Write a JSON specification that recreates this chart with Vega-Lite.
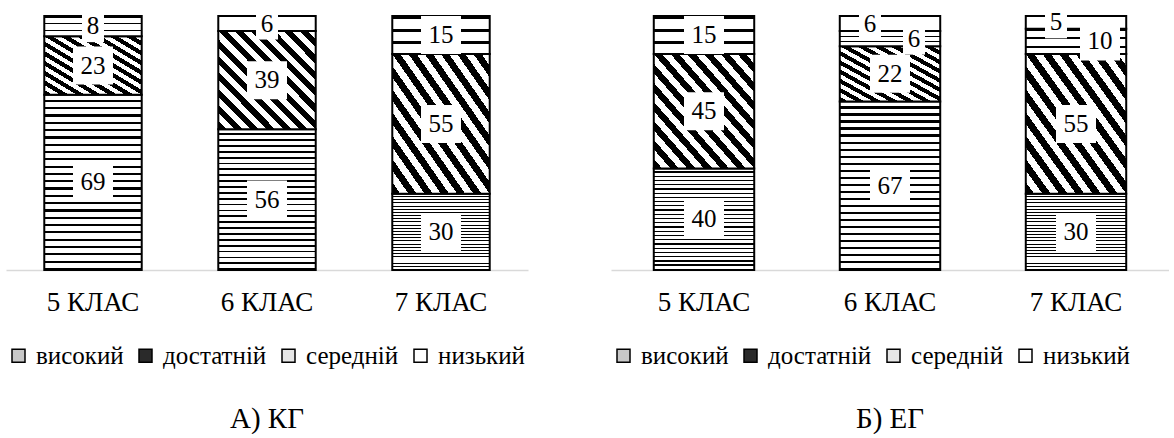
{
  "$schema": "https://vega.github.io/schema/vega-lite/v6.json",
  "background": "white",
  "padding": {"left": 6, "top": 6, "right": 0, "bottom": 0},
  "spacing": 83,
  "config": {
    "font": "Times New Roman, Liberation Serif, serif",
    "view": {"stroke": null},
    "axisX": {"title": null, "labelAngle": 0, "ticks": false, "domainColor": "#d9d9d9", "domainWidth": 1.5, "labelFont": "Times New Roman, Liberation Serif, serif", "labelFontSize": 27, "labelPadding": 19, "labelColor": "black", "grid": false},
    "legend": {"orient": "bottom", "direction": "horizontal", "symbolType": "square", "symbolSize": 169, "symbolStrokeColor": "black", "symbolStrokeWidth": 1.5, "symbolOpacity": 1, "labelFont": "Times New Roman, Liberation Serif, serif", "labelFontSize": 25, "labelColor": "black", "title": null, "columnPadding": 9, "labelOffset": 5, "offset": 28},
    "title": {"orient": "bottom", "fontSize": 29, "font": "Times New Roman, Liberation Serif, serif", "fontWeight": "normal", "color": "black", "offset": 36}
  },
  "datasets": {
    "rows": [
      {"group": "КГ", "klas": "5 КЛАС", "level": "високий", "value": 69},
      {"group": "КГ", "klas": "5 КЛАС", "level": "достатній", "value": 23},
      {"group": "КГ", "klas": "5 КЛАС", "level": "середній", "value": 8},
      {"group": "КГ", "klas": "6 КЛАС", "level": "високий", "value": 56},
      {"group": "КГ", "klas": "6 КЛАС", "level": "достатній", "value": 39},
      {"group": "КГ", "klas": "6 КЛАС", "level": "низький", "value": 6},
      {"group": "КГ", "klas": "7 КЛАС", "level": "високий", "value": 30},
      {"group": "КГ", "klas": "7 КЛАС", "level": "достатній", "value": 55},
      {"group": "КГ", "klas": "7 КЛАС", "level": "середній", "value": 15},
      {"group": "ЕГ", "klas": "5 КЛАС", "level": "високий", "value": 40},
      {"group": "ЕГ", "klas": "5 КЛАС", "level": "достатній", "value": 45},
      {"group": "ЕГ", "klas": "5 КЛАС", "level": "середній", "value": 15},
      {"group": "ЕГ", "klas": "6 КЛАС", "level": "високий", "value": 67},
      {"group": "ЕГ", "klas": "6 КЛАС", "level": "достатній", "value": 22},
      {"group": "ЕГ", "klas": "6 КЛАС", "level": "середній", "value": 6},
      {"group": "ЕГ", "klas": "6 КЛАС", "level": "низький", "value": 6},
      {"group": "ЕГ", "klas": "7 КЛАС", "level": "високий", "value": 30},
      {"group": "ЕГ", "klas": "7 КЛАС", "level": "достатній", "value": 55},
      {"group": "ЕГ", "klas": "7 КЛАС", "level": "середній", "value": 10},
      {"group": "ЕГ", "klas": "7 КЛАС", "level": "низький", "value": 5}
    ],
    "levels": [
      {"level": "високий", "rank": 1},
      {"level": "достатній", "rank": 2},
      {"level": "середній", "rank": 3},
      {"level": "низький", "rank": 4}
    ]
  },
  "resolve": {"scale": {"fill": "independent"}, "legend": {"fill": "independent"}},
  "hconcat": [
    {
      "width": 522,
      "height": 254,
      "title": {"text": "А) КГ"},
      "data": {"name": "rows"},
      "transform": [
        {"filter": "datum.group === 'КГ'"},
        {"lookup": "level", "from": {"data": {"name": "levels"}, "key": "level", "fields": ["rank"]}}
      ],
      "encoding": {
        "x": {"field": "klas", "type": "nominal", "scale": {"paddingInner": 0.44, "paddingOuter": 0.22}},
        "order": {"field": "rank", "type": "quantitative", "sort": "ascending"}
      },
      "layer": [
        {
          "mark": {"type": "bar", "stroke": "black", "strokeWidth": 2, "opacity": 1},
          "encoding": {
            "y": {"field": "value", "type": "quantitative", "stack": "normalize", "axis": null},
            "fill": {
              "condition": [
                {"test": "datum.level === 'високий'", "value": {"gradient": "linear", "x1": 0, "y1": 0, "x2": 0, "y2": 1, "stops": [
                  {"offset": 0, "color": "#fff"}, {"offset": 0.0292, "color": "#fff"}, {"offset": 0.0292, "color": "#000"}, {"offset": 0.0417, "color": "#000"},
                  {"offset": 0.0417, "color": "#fff"}, {"offset": 0.0708, "color": "#fff"}, {"offset": 0.0708, "color": "#000"}, {"offset": 0.0833, "color": "#000"},
                  {"offset": 0.0833, "color": "#fff"}, {"offset": 0.1125, "color": "#fff"}, {"offset": 0.1125, "color": "#000"}, {"offset": 0.125, "color": "#000"},
                  {"offset": 0.125, "color": "#fff"}, {"offset": 0.1542, "color": "#fff"}, {"offset": 0.1542, "color": "#000"}, {"offset": 0.1667, "color": "#000"},
                  {"offset": 0.1667, "color": "#fff"}, {"offset": 0.1958, "color": "#fff"}, {"offset": 0.1958, "color": "#000"}, {"offset": 0.2083, "color": "#000"},
                  {"offset": 0.2083, "color": "#fff"}, {"offset": 0.2375, "color": "#fff"}, {"offset": 0.2375, "color": "#000"}, {"offset": 0.25, "color": "#000"},
                  {"offset": 0.25, "color": "#fff"}, {"offset": 0.2792, "color": "#fff"}, {"offset": 0.2792, "color": "#000"}, {"offset": 0.2917, "color": "#000"},
                  {"offset": 0.2917, "color": "#fff"}, {"offset": 0.3208, "color": "#fff"}, {"offset": 0.3208, "color": "#000"}, {"offset": 0.3333, "color": "#000"},
                  {"offset": 0.3333, "color": "#fff"}, {"offset": 0.3625, "color": "#fff"}, {"offset": 0.3625, "color": "#000"}, {"offset": 0.375, "color": "#000"},
                  {"offset": 0.375, "color": "#fff"}, {"offset": 0.4042, "color": "#fff"}, {"offset": 0.4042, "color": "#000"}, {"offset": 0.4167, "color": "#000"},
                  {"offset": 0.4167, "color": "#fff"}, {"offset": 0.4458, "color": "#fff"}, {"offset": 0.4458, "color": "#000"}, {"offset": 0.4583, "color": "#000"},
                  {"offset": 0.4583, "color": "#fff"}, {"offset": 0.4875, "color": "#fff"}, {"offset": 0.4875, "color": "#000"}, {"offset": 0.5, "color": "#000"},
                  {"offset": 0.5, "color": "#fff"}, {"offset": 0.5292, "color": "#fff"}, {"offset": 0.5292, "color": "#000"}, {"offset": 0.5417, "color": "#000"},
                  {"offset": 0.5417, "color": "#fff"}, {"offset": 0.5708, "color": "#fff"}, {"offset": 0.5708, "color": "#000"}, {"offset": 0.5833, "color": "#000"},
                  {"offset": 0.5833, "color": "#fff"}, {"offset": 0.6125, "color": "#fff"}, {"offset": 0.6125, "color": "#000"}, {"offset": 0.625, "color": "#000"},
                  {"offset": 0.625, "color": "#fff"}, {"offset": 0.6542, "color": "#fff"}, {"offset": 0.6542, "color": "#000"}, {"offset": 0.6667, "color": "#000"},
                  {"offset": 0.6667, "color": "#fff"}, {"offset": 0.6958, "color": "#fff"}, {"offset": 0.6958, "color": "#000"}, {"offset": 0.7083, "color": "#000"},
                  {"offset": 0.7083, "color": "#fff"}, {"offset": 0.7375, "color": "#fff"}, {"offset": 0.7375, "color": "#000"}, {"offset": 0.75, "color": "#000"},
                  {"offset": 0.75, "color": "#fff"}, {"offset": 0.7792, "color": "#fff"}, {"offset": 0.7792, "color": "#000"}, {"offset": 0.7917, "color": "#000"},
                  {"offset": 0.7917, "color": "#fff"}, {"offset": 0.8208, "color": "#fff"}, {"offset": 0.8208, "color": "#000"}, {"offset": 0.8333, "color": "#000"},
                  {"offset": 0.8333, "color": "#fff"}, {"offset": 0.8625, "color": "#fff"}, {"offset": 0.8625, "color": "#000"}, {"offset": 0.875, "color": "#000"},
                  {"offset": 0.875, "color": "#fff"}, {"offset": 0.9042, "color": "#fff"}, {"offset": 0.9042, "color": "#000"}, {"offset": 0.9167, "color": "#000"},
                  {"offset": 0.9167, "color": "#fff"}, {"offset": 0.9458, "color": "#fff"}, {"offset": 0.9458, "color": "#000"}, {"offset": 0.9583, "color": "#000"},
                  {"offset": 0.9583, "color": "#fff"}, {"offset": 0.9875, "color": "#fff"}, {"offset": 0.9875, "color": "#000"}, {"offset": 1, "color": "#000"}
                ]}},
                {"test": "datum.level === 'достатній'", "value": {"gradient": "linear", "x1": 0, "y1": 1, "x2": 1, "y2": 0, "stops": [
                  {"offset": 0, "color": "#000"}, {"offset": 0.0417, "color": "#000"}, {"offset": 0.0417, "color": "#fff"}, {"offset": 0.0833, "color": "#fff"},
                  {"offset": 0.0833, "color": "#000"}, {"offset": 0.125, "color": "#000"}, {"offset": 0.125, "color": "#fff"}, {"offset": 0.1667, "color": "#fff"},
                  {"offset": 0.1667, "color": "#000"}, {"offset": 0.2083, "color": "#000"}, {"offset": 0.2083, "color": "#fff"}, {"offset": 0.25, "color": "#fff"},
                  {"offset": 0.25, "color": "#000"}, {"offset": 0.2917, "color": "#000"}, {"offset": 0.2917, "color": "#fff"}, {"offset": 0.3333, "color": "#fff"},
                  {"offset": 0.3333, "color": "#000"}, {"offset": 0.375, "color": "#000"}, {"offset": 0.375, "color": "#fff"}, {"offset": 0.4167, "color": "#fff"},
                  {"offset": 0.4167, "color": "#000"}, {"offset": 0.4583, "color": "#000"}, {"offset": 0.4583, "color": "#fff"}, {"offset": 0.5, "color": "#fff"},
                  {"offset": 0.5, "color": "#000"}, {"offset": 0.5417, "color": "#000"}, {"offset": 0.5417, "color": "#fff"}, {"offset": 0.5833, "color": "#fff"},
                  {"offset": 0.5833, "color": "#000"}, {"offset": 0.625, "color": "#000"}, {"offset": 0.625, "color": "#fff"}, {"offset": 0.6667, "color": "#fff"},
                  {"offset": 0.6667, "color": "#000"}, {"offset": 0.7083, "color": "#000"}, {"offset": 0.7083, "color": "#fff"}, {"offset": 0.75, "color": "#fff"},
                  {"offset": 0.75, "color": "#000"}, {"offset": 0.7917, "color": "#000"}, {"offset": 0.7917, "color": "#fff"}, {"offset": 0.8333, "color": "#fff"},
                  {"offset": 0.8333, "color": "#000"}, {"offset": 0.875, "color": "#000"}, {"offset": 0.875, "color": "#fff"}, {"offset": 0.9167, "color": "#fff"},
                  {"offset": 0.9167, "color": "#000"}, {"offset": 0.9583, "color": "#000"}, {"offset": 0.9583, "color": "#fff"}, {"offset": 1, "color": "#fff"}
                ]}},
                {"test": "datum.level === 'середній'", "value": {"gradient": "linear", "x1": 0, "y1": 0, "x2": 0, "y2": 1, "stops": [
                  {"offset": 0, "color": "#000"}, {"offset": 0.08, "color": "#000"}, {"offset": 0.08, "color": "#fff"}, {"offset": 0.333, "color": "#fff"},
                  {"offset": 0.333, "color": "#000"}, {"offset": 0.413, "color": "#000"}, {"offset": 0.413, "color": "#fff"}, {"offset": 0.667, "color": "#fff"},
                  {"offset": 0.667, "color": "#000"}, {"offset": 0.747, "color": "#000"}, {"offset": 0.747, "color": "#fff"}, {"offset": 1, "color": "#fff"}
                ]}},
                {"test": "datum.level === 'низький'", "value": "#ffffff"}
              ],
              "field": "level", "type": "nominal",
              "scale": {"domain": ["високий", "достатній", "середній", "низький"], "range": ["#c8c8c8", "#2a2a2a", "#e6e6e6", "#ffffff"]}
            }
          }
        },
        {
          "mark": {"type": "point", "filled": true, "fill": "white", "strokeWidth": 0, "opacity": 1, "size": 1600,
            "shape": {"expr": "datum.value >= 10 ? 'M-1,-0.95H1V0.95H-1Z' : 'M-0.55,-0.8H0.55V0.8H-0.55Z'"}},
          "encoding": {
            "y": {"field": "value", "type": "quantitative", "stack": "normalize", "bandPosition": 0.5},
            "detail": {"field": "level", "type": "nominal"}
          }
        },
        {
          "mark": {"type": "text", "fontSize": 25, "font": "Times New Roman, Liberation Serif, serif", "color": "black", "baseline": "middle"},
          "encoding": {
            "y": {"field": "value", "type": "quantitative", "stack": "normalize", "bandPosition": 0.5},
            "text": {"field": "value", "type": "quantitative"},
            "detail": {"field": "level", "type": "nominal"}
          }
        }
      ]
    },
    {
      "width": 558,
      "height": 254,
      "title": {"text": "Б) ЕГ"},
      "data": {"name": "rows"},
      "transform": [
        {"filter": "datum.group === 'ЕГ'"},
        {"lookup": "level", "from": {"data": {"name": "levels"}, "key": "level", "fields": ["rank"]}}
      ],
      "encoding": {
        "x": {"field": "klas", "type": "nominal", "scale": {"paddingInner": 0.46, "paddingOuter": 0.23}},
        "order": {"field": "rank", "type": "quantitative", "sort": "ascending"}
      },
      "layer": [
        {
          "mark": {"type": "bar", "stroke": "black", "strokeWidth": 2, "opacity": 1},
          "encoding": {
            "y": {"field": "value", "type": "quantitative", "stack": "normalize", "axis": null},
            "fill": {
              "condition": [
                {"test": "datum.level === 'високий'", "value": {"gradient": "linear", "x1": 0, "y1": 0, "x2": 0, "y2": 1, "stops": [
                  {"offset": 0, "color": "#fff"}, {"offset": 0.0292, "color": "#fff"}, {"offset": 0.0292, "color": "#000"}, {"offset": 0.0417, "color": "#000"},
                  {"offset": 0.0417, "color": "#fff"}, {"offset": 0.0708, "color": "#fff"}, {"offset": 0.0708, "color": "#000"}, {"offset": 0.0833, "color": "#000"},
                  {"offset": 0.0833, "color": "#fff"}, {"offset": 0.1125, "color": "#fff"}, {"offset": 0.1125, "color": "#000"}, {"offset": 0.125, "color": "#000"},
                  {"offset": 0.125, "color": "#fff"}, {"offset": 0.1542, "color": "#fff"}, {"offset": 0.1542, "color": "#000"}, {"offset": 0.1667, "color": "#000"},
                  {"offset": 0.1667, "color": "#fff"}, {"offset": 0.1958, "color": "#fff"}, {"offset": 0.1958, "color": "#000"}, {"offset": 0.2083, "color": "#000"},
                  {"offset": 0.2083, "color": "#fff"}, {"offset": 0.2375, "color": "#fff"}, {"offset": 0.2375, "color": "#000"}, {"offset": 0.25, "color": "#000"},
                  {"offset": 0.25, "color": "#fff"}, {"offset": 0.2792, "color": "#fff"}, {"offset": 0.2792, "color": "#000"}, {"offset": 0.2917, "color": "#000"},
                  {"offset": 0.2917, "color": "#fff"}, {"offset": 0.3208, "color": "#fff"}, {"offset": 0.3208, "color": "#000"}, {"offset": 0.3333, "color": "#000"},
                  {"offset": 0.3333, "color": "#fff"}, {"offset": 0.3625, "color": "#fff"}, {"offset": 0.3625, "color": "#000"}, {"offset": 0.375, "color": "#000"},
                  {"offset": 0.375, "color": "#fff"}, {"offset": 0.4042, "color": "#fff"}, {"offset": 0.4042, "color": "#000"}, {"offset": 0.4167, "color": "#000"},
                  {"offset": 0.4167, "color": "#fff"}, {"offset": 0.4458, "color": "#fff"}, {"offset": 0.4458, "color": "#000"}, {"offset": 0.4583, "color": "#000"},
                  {"offset": 0.4583, "color": "#fff"}, {"offset": 0.4875, "color": "#fff"}, {"offset": 0.4875, "color": "#000"}, {"offset": 0.5, "color": "#000"},
                  {"offset": 0.5, "color": "#fff"}, {"offset": 0.5292, "color": "#fff"}, {"offset": 0.5292, "color": "#000"}, {"offset": 0.5417, "color": "#000"},
                  {"offset": 0.5417, "color": "#fff"}, {"offset": 0.5708, "color": "#fff"}, {"offset": 0.5708, "color": "#000"}, {"offset": 0.5833, "color": "#000"},
                  {"offset": 0.5833, "color": "#fff"}, {"offset": 0.6125, "color": "#fff"}, {"offset": 0.6125, "color": "#000"}, {"offset": 0.625, "color": "#000"},
                  {"offset": 0.625, "color": "#fff"}, {"offset": 0.6542, "color": "#fff"}, {"offset": 0.6542, "color": "#000"}, {"offset": 0.6667, "color": "#000"},
                  {"offset": 0.6667, "color": "#fff"}, {"offset": 0.6958, "color": "#fff"}, {"offset": 0.6958, "color": "#000"}, {"offset": 0.7083, "color": "#000"},
                  {"offset": 0.7083, "color": "#fff"}, {"offset": 0.7375, "color": "#fff"}, {"offset": 0.7375, "color": "#000"}, {"offset": 0.75, "color": "#000"},
                  {"offset": 0.75, "color": "#fff"}, {"offset": 0.7792, "color": "#fff"}, {"offset": 0.7792, "color": "#000"}, {"offset": 0.7917, "color": "#000"},
                  {"offset": 0.7917, "color": "#fff"}, {"offset": 0.8208, "color": "#fff"}, {"offset": 0.8208, "color": "#000"}, {"offset": 0.8333, "color": "#000"},
                  {"offset": 0.8333, "color": "#fff"}, {"offset": 0.8625, "color": "#fff"}, {"offset": 0.8625, "color": "#000"}, {"offset": 0.875, "color": "#000"},
                  {"offset": 0.875, "color": "#fff"}, {"offset": 0.9042, "color": "#fff"}, {"offset": 0.9042, "color": "#000"}, {"offset": 0.9167, "color": "#000"},
                  {"offset": 0.9167, "color": "#fff"}, {"offset": 0.9458, "color": "#fff"}, {"offset": 0.9458, "color": "#000"}, {"offset": 0.9583, "color": "#000"},
                  {"offset": 0.9583, "color": "#fff"}, {"offset": 0.9875, "color": "#fff"}, {"offset": 0.9875, "color": "#000"}, {"offset": 1, "color": "#000"}
                ]}},
                {"test": "datum.level === 'достатній'", "value": {"gradient": "linear", "x1": 0, "y1": 1, "x2": 1, "y2": 0, "stops": [
                  {"offset": 0, "color": "#000"}, {"offset": 0.0417, "color": "#000"}, {"offset": 0.0417, "color": "#fff"}, {"offset": 0.0833, "color": "#fff"},
                  {"offset": 0.0833, "color": "#000"}, {"offset": 0.125, "color": "#000"}, {"offset": 0.125, "color": "#fff"}, {"offset": 0.1667, "color": "#fff"},
                  {"offset": 0.1667, "color": "#000"}, {"offset": 0.2083, "color": "#000"}, {"offset": 0.2083, "color": "#fff"}, {"offset": 0.25, "color": "#fff"},
                  {"offset": 0.25, "color": "#000"}, {"offset": 0.2917, "color": "#000"}, {"offset": 0.2917, "color": "#fff"}, {"offset": 0.3333, "color": "#fff"},
                  {"offset": 0.3333, "color": "#000"}, {"offset": 0.375, "color": "#000"}, {"offset": 0.375, "color": "#fff"}, {"offset": 0.4167, "color": "#fff"},
                  {"offset": 0.4167, "color": "#000"}, {"offset": 0.4583, "color": "#000"}, {"offset": 0.4583, "color": "#fff"}, {"offset": 0.5, "color": "#fff"},
                  {"offset": 0.5, "color": "#000"}, {"offset": 0.5417, "color": "#000"}, {"offset": 0.5417, "color": "#fff"}, {"offset": 0.5833, "color": "#fff"},
                  {"offset": 0.5833, "color": "#000"}, {"offset": 0.625, "color": "#000"}, {"offset": 0.625, "color": "#fff"}, {"offset": 0.6667, "color": "#fff"},
                  {"offset": 0.6667, "color": "#000"}, {"offset": 0.7083, "color": "#000"}, {"offset": 0.7083, "color": "#fff"}, {"offset": 0.75, "color": "#fff"},
                  {"offset": 0.75, "color": "#000"}, {"offset": 0.7917, "color": "#000"}, {"offset": 0.7917, "color": "#fff"}, {"offset": 0.8333, "color": "#fff"},
                  {"offset": 0.8333, "color": "#000"}, {"offset": 0.875, "color": "#000"}, {"offset": 0.875, "color": "#fff"}, {"offset": 0.9167, "color": "#fff"},
                  {"offset": 0.9167, "color": "#000"}, {"offset": 0.9583, "color": "#000"}, {"offset": 0.9583, "color": "#fff"}, {"offset": 1, "color": "#fff"}
                ]}},
                {"test": "datum.level === 'середній'", "value": {"gradient": "linear", "x1": 0, "y1": 0, "x2": 0, "y2": 1, "stops": [
                  {"offset": 0, "color": "#000"}, {"offset": 0.08, "color": "#000"}, {"offset": 0.08, "color": "#fff"}, {"offset": 0.333, "color": "#fff"},
                  {"offset": 0.333, "color": "#000"}, {"offset": 0.413, "color": "#000"}, {"offset": 0.413, "color": "#fff"}, {"offset": 0.667, "color": "#fff"},
                  {"offset": 0.667, "color": "#000"}, {"offset": 0.747, "color": "#000"}, {"offset": 0.747, "color": "#fff"}, {"offset": 1, "color": "#fff"}
                ]}},
                {"test": "datum.level === 'низький'", "value": "#ffffff"}
              ],
              "field": "level", "type": "nominal",
              "scale": {"domain": ["високий", "достатній", "середній", "низький"], "range": ["#c8c8c8", "#2a2a2a", "#e6e6e6", "#ffffff"]}
            }
          }
        },
        {
          "mark": {"type": "point", "filled": true, "fill": "white", "strokeWidth": 0, "opacity": 1, "size": 1600,
            "shape": {"expr": "datum.value >= 10 ? 'M-1,-0.95H1V0.95H-1Z' : 'M-0.55,-0.8H0.55V0.8H-0.55Z'"},
            "xOffset": {"expr": "datum.klas === '5 КЛАС' ? 0 : datum.level === 'низький' ? -20 : datum.level === 'середній' ? 24 : 0"}},
          "encoding": {
            "y": {"field": "value", "type": "quantitative", "stack": "normalize", "bandPosition": 0.5},
            "detail": {"field": "level", "type": "nominal"}
          }
        },
        {
          "mark": {"type": "text", "fontSize": 25, "font": "Times New Roman, Liberation Serif, serif", "color": "black", "baseline": "middle",
            "dx": {"expr": "datum.klas === '5 КЛАС' ? 0 : datum.level === 'низький' ? -20 : datum.level === 'середній' ? 24 : 0"}},
          "encoding": {
            "y": {"field": "value", "type": "quantitative", "stack": "normalize", "bandPosition": 0.5},
            "text": {"field": "value", "type": "quantitative"},
            "detail": {"field": "level", "type": "nominal"}
          }
        }
      ]
    }
  ]
}
